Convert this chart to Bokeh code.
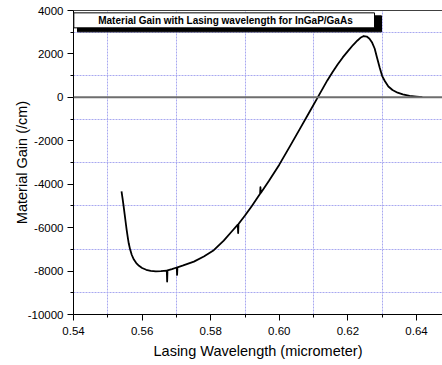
from bokeh.plotting import figure
from bokeh.models import (Range1d, FixedTicker, Span, BoxAnnotation, Label, LinearAxis)
from bokeh.embed import file_html
from bokeh.resources import INLINE

# Data
wavelength = [0.5540, 0.5543, 0.5546, 0.5549, 0.5552, 0.5555, 0.5558, 0.5561, 0.5565, 0.5570,
              0.5576, 0.5583, 0.5591, 0.5600, 0.5612, 0.5625, 0.5640, 0.5655, 0.5672, 0.5673,
              0.5674, 0.5687, 0.5701, 0.5702, 0.5703, 0.5720, 0.5751, 0.5780, 0.5809, 0.5838,
              0.5860, 0.5879, 0.5880, 0.5881, 0.5900, 0.5920, 0.5944, 0.5945, 0.5946, 0.5970,
              0.6000, 0.6030, 0.6060, 0.6090, 0.6110, 0.6140, 0.6155, 0.6170, 0.6185, 0.6200,
              0.6215, 0.6228, 0.6238, 0.6246, 0.6255, 0.6263, 0.6270, 0.6278, 0.6285, 0.6293,
              0.6300, 0.6308, 0.6318, 0.6330, 0.6345, 0.6360, 0.6380, 0.6400, 0.6417]
gain = [-4330, -4650, -5000, -5370, -5740, -6100, -6430, -6720, -7000, -7260,
        -7470, -7630, -7760, -7860, -7940, -7990, -8010, -8000, -7975, -8480,
        -7970, -7910, -7835, -8176, -7825, -7740, -7563, -7330, -7040, -6600,
        -6200, -5860, -6250, -5830, -5440, -5000, -4440, -4140, -4400, -3840,
        -3100, -2280, -1450, -620, -60, 780, 1160, 1510, 1840, 2130,
        2410, 2620, 2760, 2825, 2800, 2700, 2540, 2250, 1820, 1350,
        980, 740, 500, 340, 215, 140, 70, 35, 10]

x_major = [0.54, 0.56, 0.58, 0.60, 0.62, 0.64]
x_minor = [0.55, 0.57, 0.59, 0.61, 0.63]
y_major = [-10000, -8000, -6000, -4000, -2000, 0, 2000, 4000]
y_minor = [-9000, -7000, -5000, -3000, -1000, 1000, 3000]
x_tick_labels = {0.54: "0.54", 0.56: "0.56", 0.58: "0.58", 0.60: "0.60", 0.62: "0.62", 0.64: "0.64"}
y_tick_labels = {v: str(v) for v in y_major}
title_text = "Material Gain with Lasing wavelength for InGaP/GaAs"

FONT = "Liberation Sans"

p = figure(width=442, height=365, output_backend="svg", toolbar_location=None,
           x_range=Range1d(0.54, 0.64758), y_range=Range1d(-10000, 4000),
           min_border_left=73, min_border_top=10, min_border_right=0, min_border_bottom=51)
p.outline_line_color = None
p.background_fill_color = "white"
p.border_fill_color = "white"

# grids: only at minor positions, dotted lavender
p.xgrid.ticker = FixedTicker(ticks=x_minor)
p.ygrid.ticker = FixedTicker(ticks=y_minor)
for g in (p.xgrid, p.ygrid):
    g.grid_line_color = "#a8a8f0"
    g.grid_line_dash = "2 1"
    g.grid_line_width = 1

# axes
p.xaxis.ticker = FixedTicker(ticks=x_major, minor_ticks=x_minor)
p.yaxis.ticker = FixedTicker(ticks=y_major, minor_ticks=y_minor)
p.xaxis.major_label_overrides = x_tick_labels
p.yaxis.major_label_overrides = y_tick_labels
for ax in (p.xaxis[0], p.yaxis[0]):
    ax.axis_line_color = "black"
    ax.major_tick_line_color = "black"
    ax.minor_tick_line_color = "black"
    ax.major_tick_out = 6
    ax.major_tick_in = 0
    ax.minor_tick_out = 3
    ax.minor_tick_in = 0
    ax.major_label_text_font = FONT
    ax.major_label_text_font_size = "11.5px"
    ax.major_label_text_color = "black"
    ax.axis_label_text_font = FONT
    ax.axis_label_text_font_size = "14.5px"
    ax.axis_label_text_font_style = "normal"
    ax.axis_label_text_color = "black"
p.xaxis.axis_label = "Lasing Wavelength (micrometer)"
p.yaxis.axis_label = "Material Gain (/cm)"
p.xaxis.major_label_standoff = 6
p.yaxis.major_label_standoff = 4
p.xaxis.axis_label_standoff = 5
p.yaxis.axis_label_standoff = -5

# top border
top_axis = LinearAxis(ticker=FixedTicker(ticks=[]), axis_line_color="#404040",
                      major_tick_line_color=None, minor_tick_line_color=None,
                      major_label_text_font_size="0px")
p.add_layout(top_axis, "above")

# zero line
p.add_layout(Span(location=0, dimension="width", line_color="#6e6e6e", line_width=2))

# curve
p.line(wavelength, gain, line_color="black", line_width=1.8, line_join="round")

# title box with shadow
p.add_layout(BoxAnnotation(left=0.54117, right=0.6298, top=3754, bottom=3017,
                           fill_color="black", fill_alpha=1, line_color="black", line_alpha=1))
p.add_layout(BoxAnnotation(left=0.5401, right=0.62776, top=3892, bottom=3201,
                           fill_color="white", fill_alpha=1, line_color="black", line_alpha=1,
                           line_width=1))
p.add_layout(Label(x=0.5843, y=3547, text=title_text, text_align="center",
                   text_baseline="middle", text_font=FONT, text_font_size="10px",
                   text_font_style="bold", text_color="black"))

open("out.html", "w").write(file_html(p, INLINE))
